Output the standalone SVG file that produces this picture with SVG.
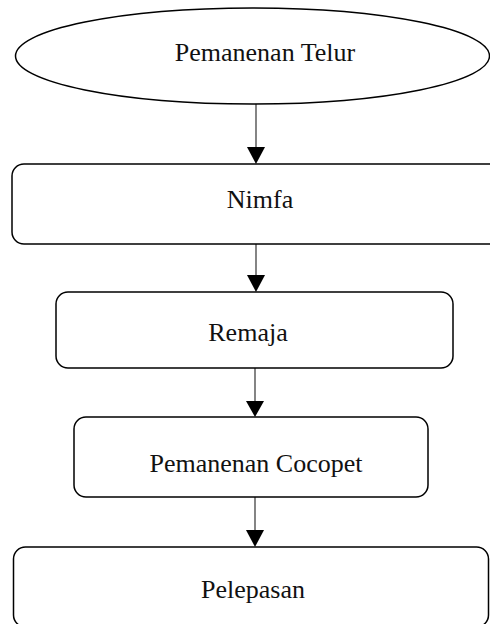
<svg xmlns="http://www.w3.org/2000/svg" width="490" height="624" viewBox="0 0 490 624">
<style>
.n{fill:#fff;stroke:#000;stroke-width:1.5}
.t{font-family:"Liberation Serif","Times New Roman",serif;font-size:26px;fill:#111;text-anchor:middle}
.c{stroke:#333;stroke-width:1.2;fill:none}
.h{fill:#000}
</style>
<rect width="490" height="624" fill="#fff"/>
<g id="connectors">
<line class="c" x1="256" y1="104" x2="256" y2="148"/>
<polygon class="h" points="247,147 265,147 256,164"/>
<line class="c" x1="256" y1="244" x2="256" y2="276"/>
<polygon class="h" points="247,275 265,275 256,292"/>
<line class="c" x1="255" y1="368" x2="255" y2="402"/>
<polygon class="h" points="246,401 264,401 255,417"/>
<line class="c" x1="255" y1="497" x2="255" y2="531"/>
<polygon class="h" points="246,530 264,530 255,547"/>
</g>
<g id="node1">
<ellipse class="n" cx="252.5" cy="56" rx="237" ry="48"/>
<text class="t" x="265" y="61">Pemanenan Telur</text>
</g>
<g id="node2">
<rect class="n" x="12" y="164" width="500" height="80" rx="12"/>
<text class="t" x="260" y="208">Nimfa</text>
</g>
<g id="node3">
<rect class="n" x="56" y="292" width="397" height="76" rx="12"/>
<text class="t" x="248" y="341">Remaja</text>
</g>
<g id="node4">
<rect class="n" x="74" y="417" width="354" height="80" rx="12"/>
<text class="t" x="256" y="472">Pemanenan Cocopet</text>
</g>
<g id="node5">
<rect class="n" x="13.5" y="547" width="475" height="80" rx="12"/>
<text class="t" x="253" y="598">Pelepasan</text>
</g>
</svg>
